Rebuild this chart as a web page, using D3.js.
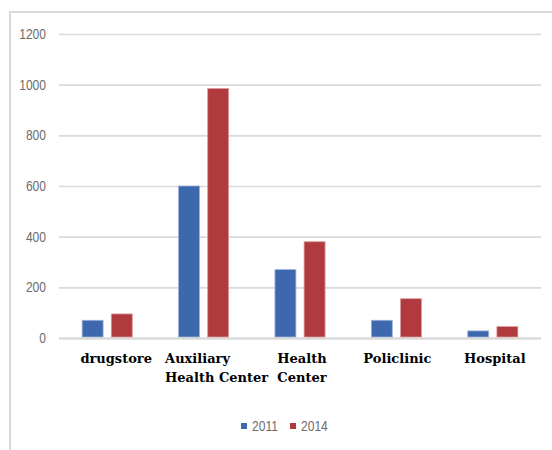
<!DOCTYPE html>
<html>
<head>
<meta charset="utf-8">
<script src="https://cdn.jsdelivr.net/npm/d3@7"></script>
<style>
    body { margin: 0; background: #fff; overflow: hidden; }
    svg { display: block; }
    .tick-label { font-family: "Liberation Sans", Arial, sans-serif; font-size: 14px; fill: #6b6b6b; }
    .cat-label { font-family: "DejaVu Serif", serif; font-weight: bold; font-size: 13px; fill: #000; }
</style>
</head>
<body>
<div id="chart"></div>
<script>
// chart data
const categories = ["drugstore", "Auxiliary Health Center", "Health Center", "Policlinic", "Hospital"];
const categoryLines = [["drugstore"], ["Auxiliary", "Health Center"], ["Health", "Center"], ["Policlinic"], ["Hospital"]];
const series = ["2011", "2014"];
const values2011 = [70, 600, 270, 70, 28];
const values2014 = [95, 985, 380, 155, 45];
const yTicks = [0, 200, 400, 600, 800, 1000, 1200];

const config = {
    width: 552,
    height: 450,
    left: 59,
    right: 541,
    top: 34,
    bottom: 338,
    colors: ["#3d68ae", "#b03a3d"],
    grid: "#dadada",
}

const svg = d3.select('#chart')
    .append('svg')
    .attr('width', config.width)
    .attr('height', config.height)
;

// outer frame: only the top and left edges are inside the picture
svg.append('path')
    .attr('d', `M10,${config.height} V12 H${config.width}`)
    .attr('fill', 'none')
    .attr('stroke', '#d9d9d9')
    .attr('stroke-width', 2)
;

const y = d3.scaleLinear()
    .domain([0, 1200])
    .range([config.bottom, config.top])
;

const x0 = d3.scaleBand()
    .domain(categories)
    .range([config.left, config.right])
;

const bw = x0.bandwidth();
const x1 = d3.scaleBand()
    .domain(series)
    .range([bw * 0.24, bw * 0.76])
    .paddingInner(0.28)
;

// gridlines
const yAxis = d3.axisLeft(y)
    .tickValues(yTicks)
    .tickSize(-(config.right - config.left))
    .tickPadding(0)
;

const axisG = svg.append('g')
    .attr('transform', `translate(${config.left},0)`)
    .call(yAxis)
;
axisG.select('.domain').remove();
axisG.selectAll('.tick line')
    .attr('stroke', config.grid)
    .attr('stroke-width', d => d === 0 ? 2.5 : 1.6)
;
axisG.selectAll('.tick text').remove();

// condensed-looking tick labels
yTicks.forEach(t => {
    svg.append('text')
        .attr('class', 'tick-label')
        .attr('text-anchor', 'end')
        .attr('transform', `translate(46,${y(t) + 5}) scale(0.86,1)`)
        .text(t)
    ;
});

// bars
const rows = categories.map((c, i) => ({ cat: c, vals: [values2011[i], values2014[i]] }));

const groups = svg.selectAll('g.group')
    .data(rows)
    .enter()
    .append('g')
    .attr('class', 'group')
    .attr('transform', d => `translate(${x0(d.cat)},0)`)
;

groups.selectAll('rect')
    .data(d => d.vals.map((v, j) => ({ key: series[j], value: v, j: j })))
    .enter()
    .append('rect')
    .attr('x', d => x1(d.key))
    .attr('y', d => y(d.value))
    .attr('width', x1.bandwidth())
    .attr('height', d => y(0) - y(d.value) - 1)
    .attr('fill', d => config.colors[d.j])
    .attr('stroke', d => d.j === 0 ? '#9fb4d8' : '#dc9c9e')
    .attr('stroke-width', 0.8)
;

// category labels, lines left aligned inside each label
const labelShift = [9, 13, 2, 1, 2];
categoryLines.forEach((lines, i) => {
    const t = svg.append('text')
        .attr('class', 'cat-label')
    ;
    lines.forEach((ln, k) => {
        t.append('tspan')
            .attr('y', 363 + k * 19)
            .text(ln)
        ;
    });
    const w = d3.max(t.selectAll('tspan').nodes(), n => n.getComputedTextLength());
    const sx = x0(categories[i]) + bw / 2 + labelShift[i] - w / 2;
    t.selectAll('tspan').attr('x', sx);
});

// legend
const legendX = [241, 290];
series.forEach((s, j) => {
    svg.append('rect')
        .attr('x', legendX[j])
        .attr('y', 423)
        .attr('width', 6)
        .attr('height', 6)
        .attr('fill', config.colors[j])
    ;
    svg.append('text')
        .attr('class', 'tick-label')
        .attr('transform', `translate(${legendX[j] + 11},431) scale(0.86,1)`)
        .text(s)
    ;
});
</script>
</body>
</html>
